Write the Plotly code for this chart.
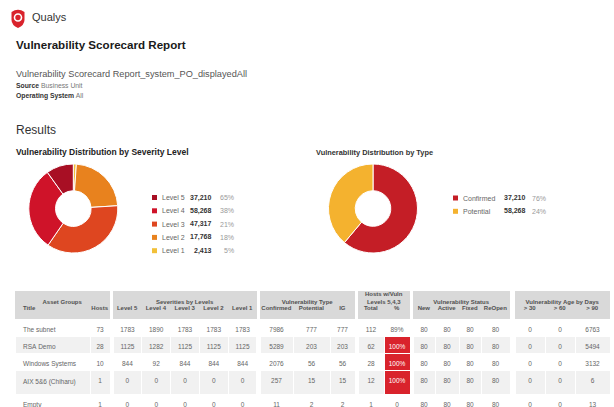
import plotly.graph_objects as go

W, H = 614, 407
FONT = "Liberation Sans, Arial, sans-serif"
NB = "\u00a0"

# ---------------- data ----------------
sev_labels = ["Level 5", "Level 4", "Level 3", "Level 2", "Level 1"]
sev_slice = [9.9, 30.5, 35.6, 22.9, 1.1]          # slice shares
sev_counts = ["37,210", "58,268", "47,317", "17,768", "2,413"]
sev_pcts = ["65%", "38%", "21%", "18%", "5%"]
sev_colors = ["#a80f24", "#cf1329", "#de4620", "#e8821e", "#f2c038"]

type_labels = ["Confirmed", "Potential"]
type_slice = [61.1, 38.9]
type_counts = ["37,210", "58,268"]
type_pcts = ["76%", "24%"]
type_colors = ["#c41e26", "#f4b22f"]

titles = ["The subnet", "RSA Demo", "Windows Systems", "AIX 5&6 (Chiharu)", "Empty"]
hosts = [73, 28, 10, 1, 1]
level5 = [1783, 1125, 844, 0, 0]
level4 = [1890, 1282, 92, 0, 0]
level3 = [1783, 1125, 844, 0, 0]
level2 = [1783, 1125, 844, 0, 0]
level1 = [1783, 1125, 844, 0, 0]
confirmed = [7986, 5289, 2076, 257, 11]
potential = [777, 203, 56, 15, 2]
ig = [777, 203, 56, 15, 2]
hv_total = [112, 62, 28, 12, 1]
hv_pct = ["89%", "100%", "100%", "100%", "0"]
st_new = [80, 80, 80, 80, 80]
st_active = [80, 80, 80, 80, 80]
st_fixed = [80, 80, 80, 80, 80]
st_reopen = [80, 80, 80, 80, 80]
age30 = [0, 0, 0, 0, 0]
age60 = [0, 0, 0, 0, 0]
age90 = [6763, 5494, 3132, 6, 13]

group_names = ["Asset Groups", "Severities by Levels", "Vulnerability Type",
               "Hosts w/Vuln<br>Levels 5,4,3", "Vulnerability Status",
               "Vulnerability Age by Days"]
sub_headers = [["Title", "Hosts"],
               ["Level 5", "Level 4", "Level 3", "Level 2", "Level 1"],
               ["Confirmed", "Potential", "IG"],
               ["Total", "%"],
               ["New", "Active", "Fixed", "ReOpen"],
               ["> 30", "> 60", "> 90"]]
group_data = [[titles, hosts],
              [level5, level4, level3, level2, level1],
              [confirmed, potential, ig],
              [hv_total, hv_pct],
              [st_new, st_active, st_fixed, st_reopen],
              [age30, age60, age90]]
col_widths = [[75, 20], [28.8] * 5, [33, 37, 25], [26, 26], [22, 24, 22, 29], [30, 30, 35]]
spacer_widths = [3, 3, 3, 3, 5]


def px(x):
    return x / W


def py(y):
    return 1 - y / H


def nb(s):
    return str(s).replace(" ", NB)


fig = go.Figure()

# ---------------- donuts ----------------
fig.add_trace(go.Pie(
    labels=sev_labels[::-1], values=sev_slice[::-1], hole=0.4, sort=False,
    direction="clockwise", rotation=0,
    marker=dict(colors=sev_colors[::-1], line=dict(color="white", width=1)),
    textinfo="none", hoverinfo="label+percent", showlegend=False,
    domain=dict(x=[px(28.3), px(118.3)], y=[py(253), py(164)])))

fig.add_trace(go.Pie(
    labels=type_labels, values=type_slice, hole=0.4, sort=False,
    direction="clockwise", rotation=0,
    marker=dict(colors=type_colors, line=dict(color="white", width=1)),
    textinfo="none", hoverinfo="label+percent", showlegend=False,
    domain=dict(x=[px(328), px(418)], y=[py(253), py(164)])))

# ---------------- table ----------------
ROW_FILL = ["white", "#f1f1f1", "white", "#f1f1f1", "white"]
HDR = "#d9d9d9"
RED = "#d9232c"
CLEAR = "rgba(0,0,0,0)"
TXT = "#666666"
HTXT = "#505050"

g_vals, g_widths, g_fill = [], [], []
h_vals, c_vals, widths, fills, aligns, hfills = [], [], [], [], [], []
for gi, (gname, subs, datas, ws) in enumerate(zip(group_names, sub_headers, group_data, col_widths)):
    g_vals.append("" if "<br>" in gname else "<b>%s</b>" % nb(gname))
    g_widths.append(sum(ws))
    g_fill.append(HDR)
    for ci, (s, d, w) in enumerate(zip(subs, datas, ws)):
        h_vals.append("<b>%s</b>" % nb(s))
        c_vals.append([nb(v) for v in d])
        widths.append(w)
        hfills.append(CLEAR)
        if s == "%":
            fills.append([RED if v == "100%" else ROW_FILL[i] for i, v in enumerate(d)])
        else:
            fills.append(ROW_FILL)
        aligns.append("left" if s == "Title" else "center")
    if gi < len(spacer_widths):
        g_vals.append("")
        g_widths.append(spacer_widths[gi])
        g_fill.append("white")
        h_vals.append("")
        c_vals.append([""] * len(titles))
        widths.append(spacer_widths[gi])
        hfills.append(CLEAR)
        fills.append(["white"] * len(titles))
        aligns.append("center")

font_colors = [["white" if c == RED else TXT for c in f] for f in fills]

# group header band
fig.add_trace(go.Table(
    domain=dict(x=[px(15), px(610)], y=[py(319), py(291)]),
    columnwidth=g_widths,
    header=dict(values=g_vals, fill_color=g_fill, height=27,
                line=dict(width=0, color="white"), align="center",
                font=dict(family=FONT, size=6, color=HTXT)),
    cells=dict(values=[[""] for _ in g_vals], fill_color=g_fill, height=1,
               line=dict(width=0, color="white"))))

# main table
fig.add_trace(go.Table(
    domain=dict(x=[px(15), px(610)], y=[0, py(297)]),
    columnwidth=widths,
    header=dict(values=h_vals, fill_color=hfills, height=17,
                line=dict(width=0, color=CLEAR), align=aligns,
                font=dict(family=FONT, size=6, color=HTXT)),
    cells=dict(values=c_vals, fill_color=fills, height=17,
               line=dict(width=1, color="white"), align=aligns,
               font=dict(family=FONT, size=6.5, color=font_colors))))

# ---------------- texts ----------------
ann = []


def text(x, y, s, size, color="#333", xanchor="left"):
    ann.append(dict(x=px(x), y=py(y), xref="paper", yref="paper", text=s,
                    showarrow=False, xanchor=xanchor, yanchor="middle",
                    font=dict(family=FONT, size=size, color=color)))


text(30, 17, "Qualys", 11, "#333")
text(14, 44, "<b>Vulnerability Scorecard Report</b>", 11.6, "#1a1a1a")
text(14, 74, "Vulnerability Scorecard Report_system_PO_displayedAll", 9.2, "#555")
text(14, 85, "<b>Source</b> <span style='color:#777'>Business Unit</span>", 6.8, "#333")
text(14, 96, "<b>Operating System</b> <span style='color:#777'>All</span>", 6.8, "#333")
text(14, 130, "Results", 12, "#333")
text(14, 152, "<b>Vulnerability Distribution by Severity Level</b>", 8.5, "#222")
text(314, 152, "<b>Vulnerability Distribution by Type</b>", 7.4, "#333")
# two-line group header of the table
ann.append(dict(x=px(384), y=py(298), xref="paper", yref="paper",
                text="<b>%s</b>" % group_names[3], showarrow=False,
                xanchor="center", yanchor="middle",
                font=dict(family=FONT, size=6, color=HTXT)))

shapes = []


def legend(x0, y0, labels, counts, pcts, colors, xval, xpct):
    for i, (lab, cnt, pc, col) in enumerate(zip(labels, counts, pcts, colors)):
        yy = y0 + i * 13.3
        shapes.append(dict(type="rect", xref="paper", yref="paper",
                           x0=px(x0), x1=px(x0 + 5), y0=py(yy + 2.5), y1=py(yy - 2.5),
                           fillcolor=col, line=dict(width=0)))
        text(x0 + 8, yy, lab, 7, "#666")
        text(xval, yy, "<b>%s</b>" % cnt, 7, "#333", "right")
        text(xpct, yy, pc, 7, "#999", "right")


legend(152, 197.5, sev_labels, sev_counts, sev_pcts, sev_colors, 213.5, 235.5)
legend(453, 198, type_labels, type_counts, type_pcts, type_colors, 527.5, 547.5)

# logo
shapes.append(dict(type="path", xref="paper", yref="paper",
                   path="M %f,%f Q %f,%f %f,%f L %f,%f Q %f,%f %f,%f Q %f,%f %f,%f Z" % (
                       px(11.5), py(12), px(18), py(7.5), px(24.5), py(12),
                       px(24.5), py(20), px(24.5), py(25), px(18), py(28),
                       px(11.5), py(25), px(11.5), py(20)),
                   fillcolor="#d9232c", line=dict(width=0)))
shapes.append(dict(type="circle", xref="paper", yref="paper",
                   x0=px(14.5), x1=px(21.5), y0=py(21), y1=py(14),
                   fillcolor="#d9232c", line=dict(color="white", width=1.6)))

fig.update_layout(
    width=W, height=H, margin=dict(l=0, r=0, t=0, b=0),
    paper_bgcolor="white", plot_bgcolor="white",
    annotations=ann, shapes=shapes, showlegend=False,
    font=dict(family=FONT))

fig.write_html("out.html")
